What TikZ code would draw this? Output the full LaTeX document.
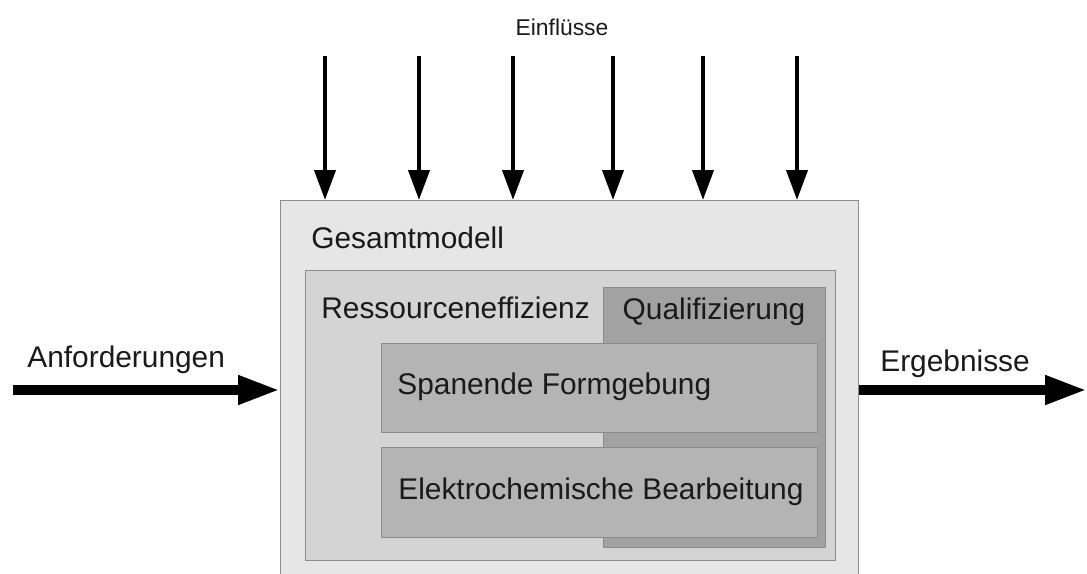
\documentclass[tikz,border=0pt]{standalone}
\usepackage{fontspec}
\setmainfont{Liberation Sans}
\usetikzlibrary{arrows.meta}

\definecolor{randgrau}{RGB}{140,140,140}
\definecolor{modellgrau}{RGB}{230,230,230}
\definecolor{effizienzgrau}{RGB}{212,212,212}
\definecolor{qualigrau}{RGB}{162,162,162}
\definecolor{prozessgrau}{RGB}{180,180,180}
\definecolor{schrift}{RGB}{26,26,26}

\begin{document}
\begin{tikzpicture}[
  rahmen/.style={draw=randgrau, line width=0.8pt, anchor=north west, inner sep=0pt},
  beschriftung/.style={anchor=west, inner sep=0pt, text=schrift, font=\fontsize{17}{20}\selectfont},
  einfluss/.style={line width=2.3pt, -{Triangle[length=6mm,width=4.2mm]}},
  fluss/.style={line width=5.7pt, -{Triangle[length=8.4mm,width=5.4mm]}}
]
  \useasboundingbox (0,0) rectangle (21.74,-11.46);

  \node[rahmen, fill=modellgrau, minimum width=11.56cm, minimum height=7.7cm] (gesamt) at (5.6,-4.0) {};
  \node[rahmen, fill=effizienzgrau, minimum width=10.6cm, minimum height=5.8cm] (effizienz) at (6.1,-5.4) {};
  \node[rahmen, fill=qualigrau, minimum width=4.44cm, minimum height=5.2cm] (quali) at (12.06,-5.74) {};
  \node[rahmen, fill=prozessgrau, minimum width=8.72cm, minimum height=1.78cm] (spanend) at (7.62,-6.86) {};
  \node[rahmen, fill=prozessgrau, minimum width=8.72cm, minimum height=1.8cm] (elektro) at (7.62,-8.94) {};

  \node[beschriftung] (gesamttext) at (6.22,-4.76) {Gesamtmodell};
  \node[beschriftung] (effizienztext) at (6.42,-6.16) {Ressourceneffizienz};
  \node[beschriftung, anchor=center] (qualitext) at (14.28,-6.24) {Qualifizierung};
  \node[beschriftung] (spanendtext) at (7.94,-7.74) {Spanende Formgebung};
  \node[beschriftung] (elektrotext) at (7.96,-9.84) {Elektrochemische Bearbeitung};

  \node[beschriftung] (anftext) at (0.54,-7.2) {Anforderungen};
  \node[beschriftung] (ergtext) at (17.6,-7.28) {Ergebnisse};
  \node[beschriftung, anchor=center, font=\fontsize{13}{16}\selectfont] (einfltext) at (11.24,-0.54) {Einflüsse};

  % Einfluesse von oben
  \foreach \x [count=\i] in {6.5,8.38,10.26,12.26,14.06,15.94} {
    \coordinate (e\i) at (\x,-1.12);
    \draw[einfluss] (e\i) -- (e\i |- gesamt.north);
  }

  \coordinate (anf) at (0.26,-7.8);
  \coordinate (erg) at (21.74,-7.8);
  \draw[fluss] (anf) -- (anf -| gesamt.west);
  \draw[fluss] (gesamt.east |- erg) -- (erg);
\end{tikzpicture}
\end{document}
